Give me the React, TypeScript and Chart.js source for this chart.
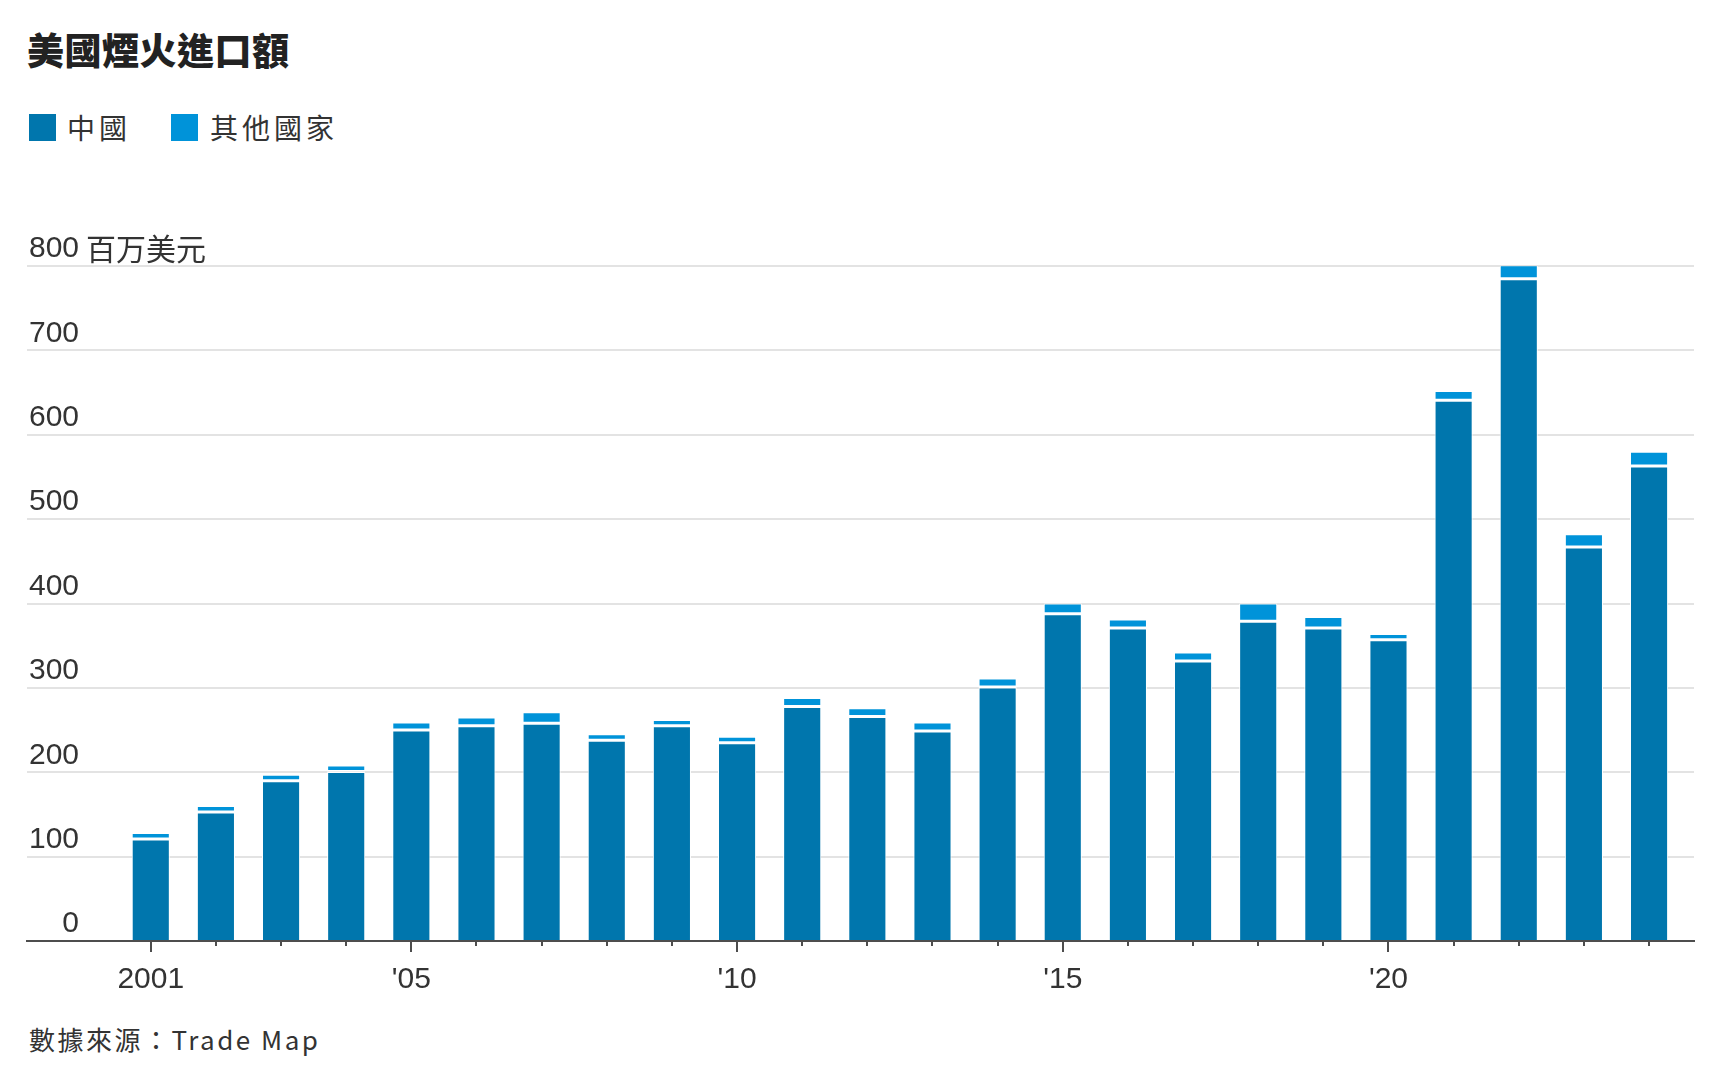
import React, { useEffect, useRef } from "react";
import { Chart, registerables } from "chart.js";

Chart.register(...registerables);

// ---- data ----
const years = [2001, 2002, 2003, 2004, 2005, 2006, 2007, 2008, 2009, 2010, 2011, 2012, 2013, 2014, 2015, 2016, 2017, 2018, 2019, 2020, 2021, 2022, 2023, 2024];
const chinaValues = [121, 153, 190, 201, 250, 255, 258, 238, 255, 235, 278, 266, 249, 301, 388, 371, 332, 379, 371, 357, 641, 785, 467, 563];
const otherValues = [7, 7, 7, 7, 9, 10, 13, 7, 7, 7, 10, 10, 10, 10, 12, 10, 10, 21, 13, 7, 11, 16, 15, 17];
const labeledYears = [2001, 2005, 2010, 2015, 2020];
const labeledText = ["2001", "'05", "'10", "'15", "'20"];
const yTicks = [0, 100, 200, 300, 400, 500, 600, 700, 800];
const yUnit = "百万美元";
const seriesNames = ["中國", "其他國家"];
const title = "美國煙火進口額";
const source = "數據來源：Trade Map";

// ---- styles ----
const CHINA_COLOR = "#0076ad";
const OTHER_COLOR = "#0093d9";
const GRID_COLOR = "#e3e3e3";
const AXIS_COLOR = "#4d4d4d";
const TEXT_COLOR = "#333333";
const NUM_FONT = '"Liberation Sans", Arial, "Noto Sans CJK SC", sans-serif';
const CJK_FONT = '"Noto Sans CJK TC", "Noto Sans CJK SC", sans-serif';
const Y_PAD = 2;
const Y_LABEL_OFFSET = -17;

const CANVAS_TOP = 190;
const CANVAS_W = 1716;
const CANVAS_H = 830;

const decorPlugin = {
  id: "decor",
  afterDraw(chart: any) {
    const { ctx } = chart;
    const x = chart.scales.x;
    const y = chart.scales.y;
    ctx.save();
    // x tick marks
    ctx.strokeStyle = AXIS_COLOR;
    ctx.lineWidth = 2;
    years.forEach((yr) => {
      const px = Math.round(x.getPixelForValue(yr));
      const len = labeledYears.includes(yr) ? 11 : 5;
      ctx.beginPath();
      ctx.moveTo(px, y.bottom);
      ctx.lineTo(px, y.bottom + len);
      ctx.stroke();
    });
    // unit after top y label
    ctx.font = `30px ${NUM_FONT}`;
    let widest = 0;
    yTicks.forEach((v) => {
      widest = Math.max(widest, ctx.measureText(String(v)).width);
    });
    const xr = y.right + Y_PAD + widest;
    const top = yTicks[yTicks.length - 1];
    ctx.font = `30px ${'"Noto Sans CJK SC", sans-serif'}`;
    ctx.fillStyle = TEXT_COLOR;
    ctx.textAlign = "left";
    ctx.textBaseline = "middle";
    ctx.fillText(yUnit, xr + 7, y.getPixelForValue(top) + Y_LABEL_OFFSET);
    ctx.restore();
  },
};

function BarChart() {
  const ref = useRef<HTMLCanvasElement | null>(null);
  useEffect(() => {
    if (!ref.current) return;
    const chart = new Chart(ref.current, {
      type: "bar",
      data: {
        datasets: [
          {
            label: seriesNames[0],
            data: years.map((yr, i) => ({ x: yr, y: chinaValues[i] })),
            backgroundColor: CHINA_COLOR,
            borderColor: "#ffffff",
            borderWidth: { top: 1.5, left: 1, right: 1, bottom: 0 },
            borderSkipped: "start",
            categoryPercentage: 1,
            barPercentage: 0.585,
          },
          {
            label: seriesNames[1],
            data: years.map((yr, i) => ({ x: yr, y: otherValues[i] })),
            backgroundColor: OTHER_COLOR,
            borderColor: "#ffffff",
            borderWidth: { top: 1, left: 1, right: 1, bottom: 1.5 },
            borderSkipped: false,
            categoryPercentage: 1,
            barPercentage: 0.585,
          },
        ],
      } as any,
      options: {
        animation: false,
        responsive: false,
        layout: { padding: { top: 76, left: 23, right: 22, bottom: 0 } },
        plugins: { legend: { display: false }, tooltip: { enabled: false } },
        scales: {
          x: {
            type: "linear",
            stacked: true,
            offset: false,
            min: 1999.1,
            max: 2024.69,
            afterBuildTicks: (scale: any) => {
              scale.ticks = years.map((v) => ({ value: v }));
            },
            afterFit: (scale: any) => {
              scale.height = 79;
            },
            grid: { display: false, drawTicks: false, offset: false },
            border: { display: true, color: AXIS_COLOR, width: 2 },
            ticks: {
              autoSkip: false,
              maxRotation: 0,
              padding: 21,
              color: TEXT_COLOR,
              font: { size: 30, family: NUM_FONT },
              callback: (v: any) => {
                const idx = labeledYears.indexOf(Number(v));
                return idx >= 0 ? labeledText[idx] : "";
              },
            },
          },
          y: {
            type: "linear",
            stacked: true,
            min: 0,
            max: 800,
            afterBuildTicks: (scale: any) => {
              scale.ticks = yTicks.map((v) => ({ value: v }));
            },
            grid: {
              color: (c: any) => (c.tick && c.tick.value === 0 ? "rgba(0,0,0,0)" : GRID_COLOR),
              lineWidth: 2,
              drawTicks: false,
            },
            border: { display: false },
            ticks: {
              mirror: true,
              crossAlign: "far",
              padding: Y_PAD,
              labelOffset: Y_LABEL_OFFSET,
              color: TEXT_COLOR,
              font: { size: 30, family: NUM_FONT },
              callback: (v: any) => String(v),
            },
          },
        },
      } as any,
      plugins: [decorPlugin],
    });
    return () => chart.destroy();
  }, []);
  return (
    <canvas
      ref={ref}
      width={CANVAS_W}
      height={CANVAS_H}
      style={{ position: "absolute", left: 0, top: CANVAS_TOP, width: CANVAS_W, height: CANVAS_H }}
    />
  );
}

export default function App() {
  const legendColors = [CHINA_COLOR, OTHER_COLOR];
  const legendSquareX = [29, 171];
  const legendTextX = [67, 210];
  return (
    <div style={{ position: "absolute", left: 0, top: 0, width: 1716, height: 1080, background: "#fff", overflow: "hidden" }}>
      <div
        style={{
          position: "absolute",
          left: 27,
          top: 31,
          fontFamily: CJK_FONT,
          fontWeight: 900,
          fontSize: 37,
          lineHeight: "37px",
          letterSpacing: 0.5,
          color: "#222",
          whiteSpace: "nowrap",
        }}
      >
        {title}
      </div>
      {seriesNames.map((name, i) => (
        <React.Fragment key={name}>
          <div
            style={{
              position: "absolute",
              left: legendSquareX[i],
              top: 114,
              width: 27,
              height: 27,
              background: legendColors[i],
            }}
          />
          <div
            style={{
              position: "absolute",
              left: legendTextX[i],
              top: 113,
              fontFamily: CJK_FONT,
              fontSize: 28,
              lineHeight: "28px",
              letterSpacing: 4,
              color: "#333",
              whiteSpace: "nowrap",
            }}
          >
            {name}
          </div>
        </React.Fragment>
      ))}
      <BarChart />
      <div
        style={{
          position: "absolute",
          left: 29,
          top: 1026,
          fontFamily: CJK_FONT,
          fontSize: 26,
          lineHeight: "26px",
          letterSpacing: 2.5,
          color: "#333",
          whiteSpace: "nowrap",
        }}
      >
        {source}
      </div>
    </div>
  );
}
